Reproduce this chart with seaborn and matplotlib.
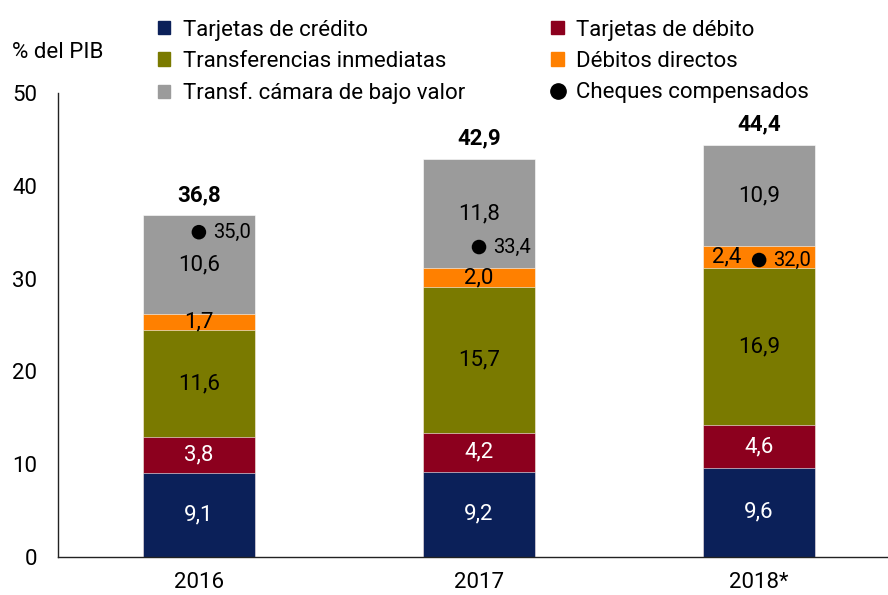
import numpy as np
import pandas as pd
import matplotlib.pyplot as plt
import seaborn as sns
from matplotlib.patches import Patch
from matplotlib.lines import Line2D

years = ['2016', '2017', '2018*']
credito = [9.1, 9.2, 9.6]
debito = [3.8, 4.2, 4.6]
inmediatas = [11.6, 15.7, 16.9]
directos = [1.7, 2.0, 2.4]
bajo_valor = [10.6, 11.8, 10.9]
cheques = [35.0, 33.4, 32.0]

series_names = ['Tarjetas de crédito', 'Tarjetas de débito', 'Transferencias inmediatas',
                'Débitos directos', 'Transf. cámara de bajo valor']
series_vals = [credito, debito, inmediatas, directos, bajo_valor]
colors = ['#0b2059', '#8c001e', '#7a7a00', '#ff8000', '#9b9b9b']
text_colors = ['white', 'white', 'black', 'black', 'black']

sns.set_theme(style='white')
plt.rcParams['font.family'] = ['Roboto', 'DejaVu Sans']
plt.rcParams['text.color'] = 'black'
plt.rcParams['xtick.color'] = 'black'
plt.rcParams['ytick.color'] = 'black'

df = pd.DataFrame(dict(zip(series_names, series_vals)), index=years)
cum = df.cumsum(axis=1)
totals = cum[series_names[-1]]

fig = plt.figure(figsize=(8.88, 5.95), dpi=100)
ax = fig.add_axes([0.0653, 0.0639, 0.9347, 0.7798])

# stacked bars: draw cumulative totals from top layer down
for name, col in zip(series_names[::-1], colors[::-1]):
    sns.barplot(x=years, y=cum[name].values, color=col, width=0.4,
                edgecolor='white', linewidth=0.4, ax=ax, saturation=1)

# segment labels
for i, yr in enumerate(years):
    bottom = 0
    for j, name in enumerate(series_names):
        v = df.loc[yr, name]
        xpos = i
        if name == 'Débitos directos' and yr == '2018*':
            xpos = i - 0.115
        ax.text(xpos, bottom + v / 2, f'{v:.1f}'.replace('.', ','), ha='center', va='center',
                fontsize=16, color=text_colors[j])
        bottom += v
    ax.text(i, totals.iloc[i] + 1.0, f'{totals.iloc[i]:.1f}'.replace('.', ','),
            ha='center', va='bottom', fontsize=16, fontweight='bold')

# cheques
sns.scatterplot(x=np.arange(len(years)), y=cheques, color='black', s=110, ax=ax,
                zorder=5, edgecolor='none')
for i, c in enumerate(cheques):
    ax.text(i + 0.05, c, f'{c:.1f}'.replace('.', ','), ha='left', va='center', fontsize=14.5)

ax.set_ylim(0, 50)
ax.set_xlim(-0.503, 2.46)
ax.set_yticks(range(0, 51, 10))
ax.tick_params(axis='y', direction='in', length=7, width=1, labelsize=16, pad=15, color='#333333')
ax.tick_params(axis='x', which='major', length=0, labelsize=16, pad=11)
ax.set_xticks([0.5, 1.5], minor=True)
ax.tick_params(axis='x', which='minor', direction='in', length=7, width=1, color='#555555')
for s in ['top', 'right']:
    ax.spines[s].set_visible(False)
for s in ['left', 'bottom']:
    ax.spines[s].set_color('#222222')
    ax.spines[s].set_linewidth(1)
ax.set_xlabel('')
ax.set_ylabel('')

fig.text(0.0135, 0.912, '% del PIB', fontsize=16, va='center', ha='left')

handles = [
    Patch(color=colors[0], label=series_names[0]),
    Patch(color=colors[2], label=series_names[2]),
    Patch(color=colors[4], label=series_names[4]),
    Patch(color=colors[1], label=series_names[1]),
    Patch(color=colors[3], label=series_names[3]),
    Line2D([], [], marker='o', color='black', linestyle='none', markersize=11,
           label='Cheques compensados'),
]
fig.legend(handles=handles, ncol=2, frameon=False, loc='upper left',
           bbox_to_anchor=(0.178, 0.967), fontsize=16, handlelength=0.55, handleheight=0.55,
           handletextpad=0.55, columnspacing=3.9, labelspacing=0.46, borderpad=0,
           borderaxespad=0)

fig.savefig('out.png', dpi=100)
